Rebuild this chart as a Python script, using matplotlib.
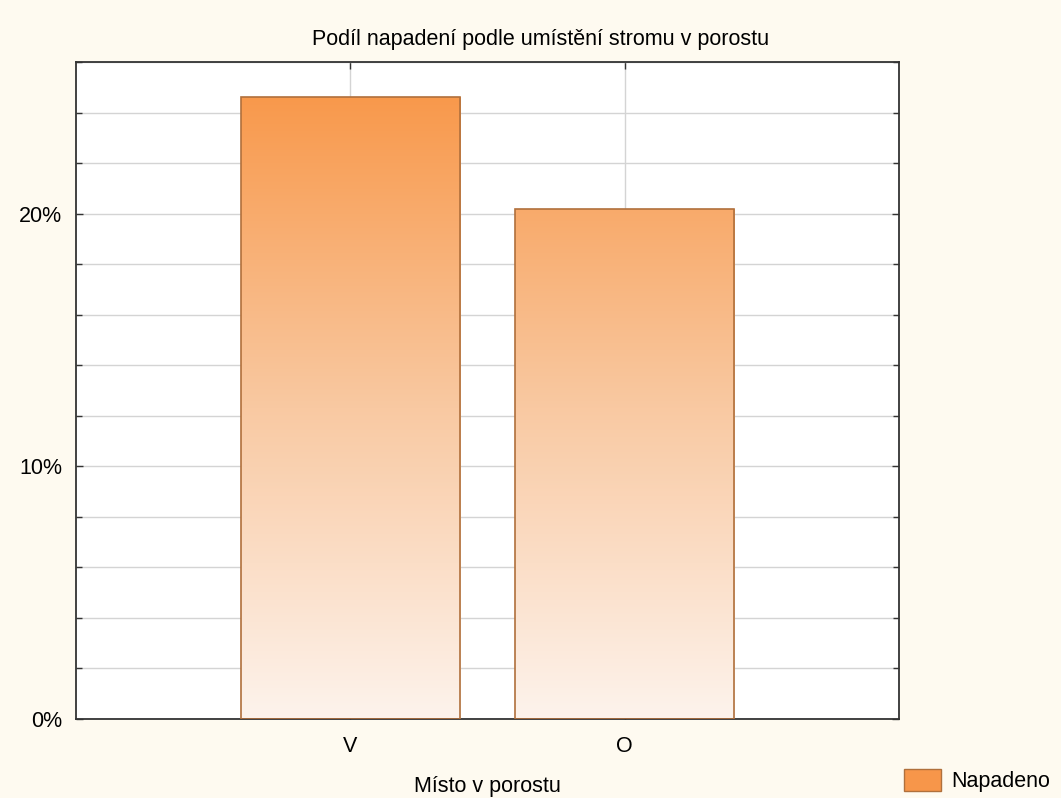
import numpy as np
import matplotlib
matplotlib.use("Agg")
import matplotlib.pyplot as plt
from matplotlib.colors import LinearSegmentedColormap
from matplotlib.patches import Patch
from matplotlib.ticker import MultipleLocator, FuncFormatter

# data
categories = ["V", "O"]
values = [24.6, 20.2]  # percent attacked
series_name = "Napadeno"

plt.rcParams["font.family"] = ["Liberation Sans", "DejaVu Sans"]

bg = "#fefaf0"
edge = "#b0703c"
grad = LinearSegmentedColormap.from_list("g", ["#fdf3ec", "#f9c9a2", "#f8994c"])
fs = 15.5

fig = plt.figure(figsize=(10.61, 7.98), dpi=100, facecolor=bg)
ax = fig.add_axes([0.0716, 0.099, 0.7757, 0.8233])
ax.set_facecolor("white")

x = np.arange(1, len(categories) + 1)
ax.set_xlim(0, len(categories) + 1)
ax.set_ylim(0, 26)

# grid
ax.set_axisbelow(True)
ax.yaxis.set_major_locator(MultipleLocator(10))
ax.yaxis.set_minor_locator(MultipleLocator(2))
ax.grid(True, which="both", axis="y", color="#d4d4d4", lw=1)
ax.grid(True, which="major", axis="x", color="#d4d4d4", lw=1)

bars = ax.bar(x, values, width=0.8, facecolor="none", edgecolor=edge, lw=1.2, zorder=3)

# vertical gradient fill, same scale for every bar
g = np.linspace(0, 1, 256).reshape(-1, 1)
for b in bars:
    im = ax.imshow(g, cmap=grad, origin="lower", aspect="auto",
                   extent=[0, len(categories) + 1, 0, 24.6], vmin=0, vmax=1, zorder=2)
    im.set_clip_path(b)

ax.set_xticks(x)
ax.set_xticklabels(categories)
ax.yaxis.set_major_formatter(FuncFormatter(lambda v, p: f"{v:.0f}%"))
ax.tick_params(which="both", direction="in", top=True, right=True, labelsize=fs,
               color="#333333")
ax.tick_params(which="major", length=5, width=1, pad=12)
ax.tick_params(which="minor", length=4, width=1)
ax.tick_params(axis="y", which="major", pad=10)
for s in ax.spines.values():
    s.set_color("#333333")
    s.set_linewidth(1.3)

ax.set_title("Podíl napadení podle umístění stromu v porostu", fontsize=fs, pad=12, x=0.564)
ax.set_xlabel("Místo v porostu", fontsize=fs, labelpad=14)

fig.legend(handles=[Patch(facecolor="#f7964a", edgecolor=edge, label=series_name)],
           loc="lower right", bbox_to_anchor=(1.0, -0.006), frameon=False, fontsize=fs,
           handlelength=1.7, handleheight=1.2, handletextpad=0.5, borderaxespad=0.1)

fig.savefig("out.png", dpi=100, facecolor=bg)
